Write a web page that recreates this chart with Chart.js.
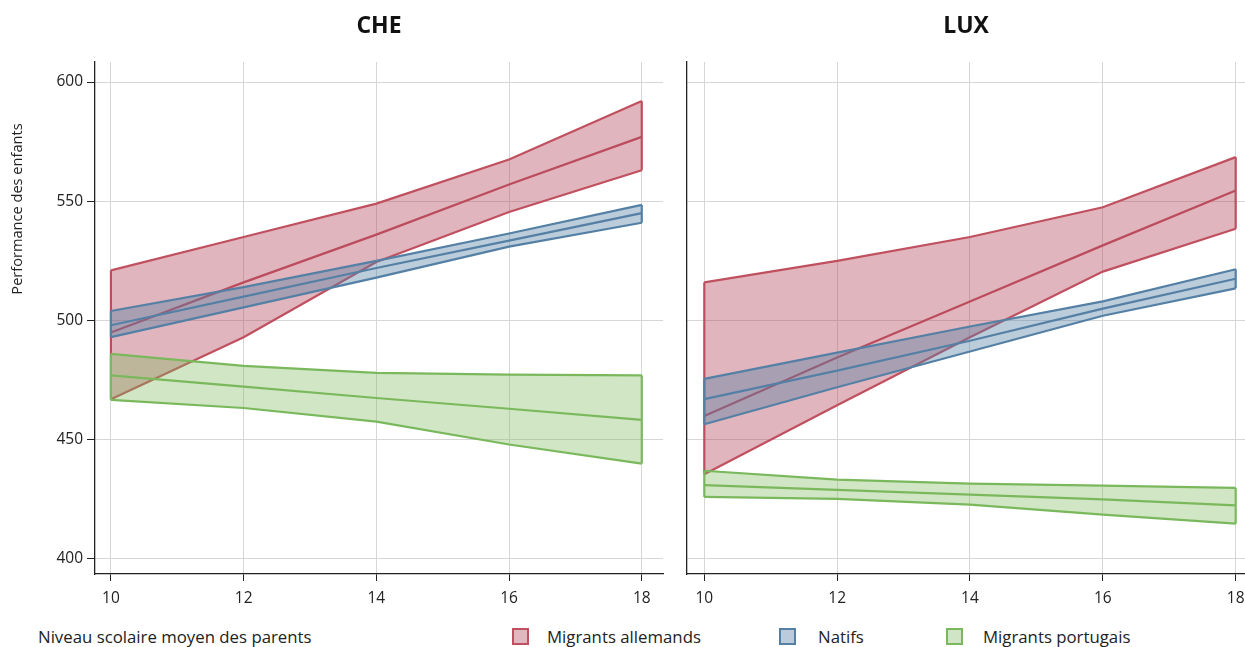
<!DOCTYPE html>
<html>
<head>
<meta charset="utf-8">
<script src="https://cdn.jsdelivr.net/npm/chart.js@4"></script>
<style>
  body { margin:0; width:1245px; height:647px; background:#fff; font-family:"Open Sans", sans-serif; overflow:hidden; }
  canvas { position:absolute; top:0; }
  #leftPanel { left:0; }
  #rightPanel { left:672px; }
  .txt { position:absolute; font-size:16.8px; color:#222; white-space:nowrap; }
  .box { position:absolute; top:628px; width:13px; height:13px; border:2.5px solid; }
</style>
</head>
<body>
<canvas id="leftPanel" width="672" height="614"></canvas>
<canvas id="rightPanel" width="603" height="614"></canvas>

<div class="txt" style="left:38px; top:625px;">Niveau scolaire moyen des parents</div>
<div class="box" style="left:512px; border-color:#c0505f; background:#e0b8c0;"></div>
<div class="txt" style="left:547px; top:625px;">Migrants allemands</div>
<div class="box" style="left:779px; border-color:#5580a5; background:#bccbdb;"></div>
<div class="txt" style="left:818px; top:625px;">Natifs</div>
<div class="box" style="left:946px; border-color:#7ab85c; background:#d0e5c5;"></div>
<div class="txt" style="left:983px; top:625px;">Migrants portugais</div>

<script>
// niveau scolaire moyen des parents
const niveaux = [10, 12, 14, 16, 18];
const xTicks = [10, 12, 14, 16, 18];
const yTicks = [400, 450, 500, 550, 600];

// CHE
const cheAllHaut = [521, 535, 549, 567.5, 592];
const cheAllMoy  = [495, 516, 536, 557, 577];
const cheAllBas  = [467, 493, 524.5, 545.5, 563];
const cheNatHaut = [504, 514, 525, 536.5, 548.5];
const cheNatMoy  = [498, 510, 522, 533.5, 545];
const cheNatBas  = [493, 505.5, 518, 531, 541];
const chePorHaut = [486, 481, 478, 477.3, 477];
const chePorMoy  = [477, 472.3, 467.5, 463, 458.3];
const chePorBas  = [466.7, 463.3, 457.6, 448, 440];

// LUX
const luxAllHaut = [516, 525, 535, 547.5, 568.5];
const luxAllMoy  = [460, 484.5, 508, 531.5, 554.5];
const luxAllBas  = [435.5, 464.5, 493, 520.5, 538.5];
const luxNatHaut = [475.5, 486.5, 497.5, 508, 521.5];
const luxNatMoy  = [467, 479, 491.5, 505, 517.5];
const luxNatBas  = [456.5, 472, 487, 502, 513.5];
const luxPorHaut = [437, 433.3, 431.6, 430.8, 429.8];
const luxPorMoy  = [431, 429, 427, 425, 422.5];
const luxPorBas  = [426, 425.2, 422.8, 418.6, 414.8];

const couleurs = {
  all: { line: "#c0505f", fill: "rgba(180,70,90,0.4)" },
  nat: { line: "#5580a5", fill: "rgba(84,128,165,0.4)" },
  por: { line: "#7ab85c", fill: "rgba(124,186,92,0.36)" },
};

const pts = (arr) => arr.map((v, i) => ({ x: niveaux[i], y: v }));

function bande(haut, moy, bas, c, order) {
  const n = niveaux.length - 1;
  const base = { borderColor: c.line, borderWidth: 2.2, pointRadius: 0, order: order, tension: 0 };
  return [
    { ...base, data: pts(bas), fill: false },
    { ...base, data: pts(haut), fill: "-1", backgroundColor: c.fill },
    { ...base, data: pts(moy), fill: false },
    { ...base, data: [{ x: niveaux[0], y: bas[0] }, { x: niveaux[0], y: haut[0] }], fill: false },
    { ...base, data: [{ x: niveaux[n], y: bas[n] }, { x: niveaux[n], y: haut[n] }], fill: false },
  ];
}

const titrePanneau = {
  id: "titrePanneau",
  afterDraw(chart, args, opts) {
    const ctx = chart.ctx, a = chart.chartArea;
    ctx.save();
    ctx.fillStyle = "#111";
    ctx.font = "bold 23px 'Open Sans'";
    ctx.textAlign = "center";
    ctx.textBaseline = "middle";
    ctx.fillText(opts.text, (a.left + a.right) / 2, 26);
    if (opts.yTitle) {
      ctx.font = "14.6px 'Open Sans'";
      ctx.fillStyle = "#222";
      ctx.translate(18, 209);
      ctx.rotate(-Math.PI / 2);
      ctx.fillText(opts.yTitle, 0, 0);
    }
    ctx.restore();
  }
};

function panneau(id, titre, datasets, gauche) {
  return new Chart(document.getElementById(id), {
    type: "line",
    data: { datasets: datasets },
    plugins: [titrePanneau],
    options: {
      responsive: false,
      animation: false,
      layout: { padding: { top: 62, right: gauche ? 9 : 30, left: 0, bottom: 0 } },
      plugins: {
        legend: { display: false },
        tooltip: { enabled: false },
        titrePanneau: { text: titre, yTitle: gauche ? "Performance des enfants" : null },
      },
      scales: {
        x: {
          type: "linear",
          min: gauche ? 9.76 : 9.74,
          max: gauche ? 18.32 : 18.14,
          afterBuildTicks: (s) => { s.ticks = xTicks.map(v => ({ value: v })); },
          afterFit: (s) => { s.height = 40; },
          grid: { color: "#d6d6d6", tickColor: "#222", tickLength: 7, lineWidth: 1 },
          border: { color: "#222", width: 1.3 },
          ticks: { padding: 8, color: "#222", font: { family: "Open Sans", size: 15.5 }, callback: (v) => String(v) },
        },
        y: {
          min: 393.7,
          max: 608.4,
          afterBuildTicks: (s) => { s.ticks = yTicks.map(v => ({ value: v })); },
          afterFit: (s) => { s.width = gauche ? 95 : 15; },
          grid: { color: "#d6d6d6", tickColor: "#222", tickLength: gauche ? 8 : 0, drawTicks: gauche, lineWidth: 1 },
          border: { color: "#222", width: 1.3 },
          ticks: { display: gauche, padding: 4, color: "#222", font: { family: "Open Sans", size: 15.5 }, callback: (v) => String(v) },
        },
      },
    },
  });
}

panneau("leftPanel", "CHE", [
  ...bande(cheAllHaut, cheAllMoy, cheAllBas, couleurs.all, 3),
  ...bande(cheNatHaut, cheNatMoy, cheNatBas, couleurs.nat, 2),
  ...bande(chePorHaut, chePorMoy, chePorBas, couleurs.por, 1),
], true);

panneau("rightPanel", "LUX", [
  ...bande(luxAllHaut, luxAllMoy, luxAllBas, couleurs.all, 3),
  ...bande(luxNatHaut, luxNatMoy, luxNatBas, couleurs.nat, 2),
  ...bande(luxPorHaut, luxPorMoy, luxPorBas, couleurs.por, 1),
], false);
</script>
</body>
</html>
